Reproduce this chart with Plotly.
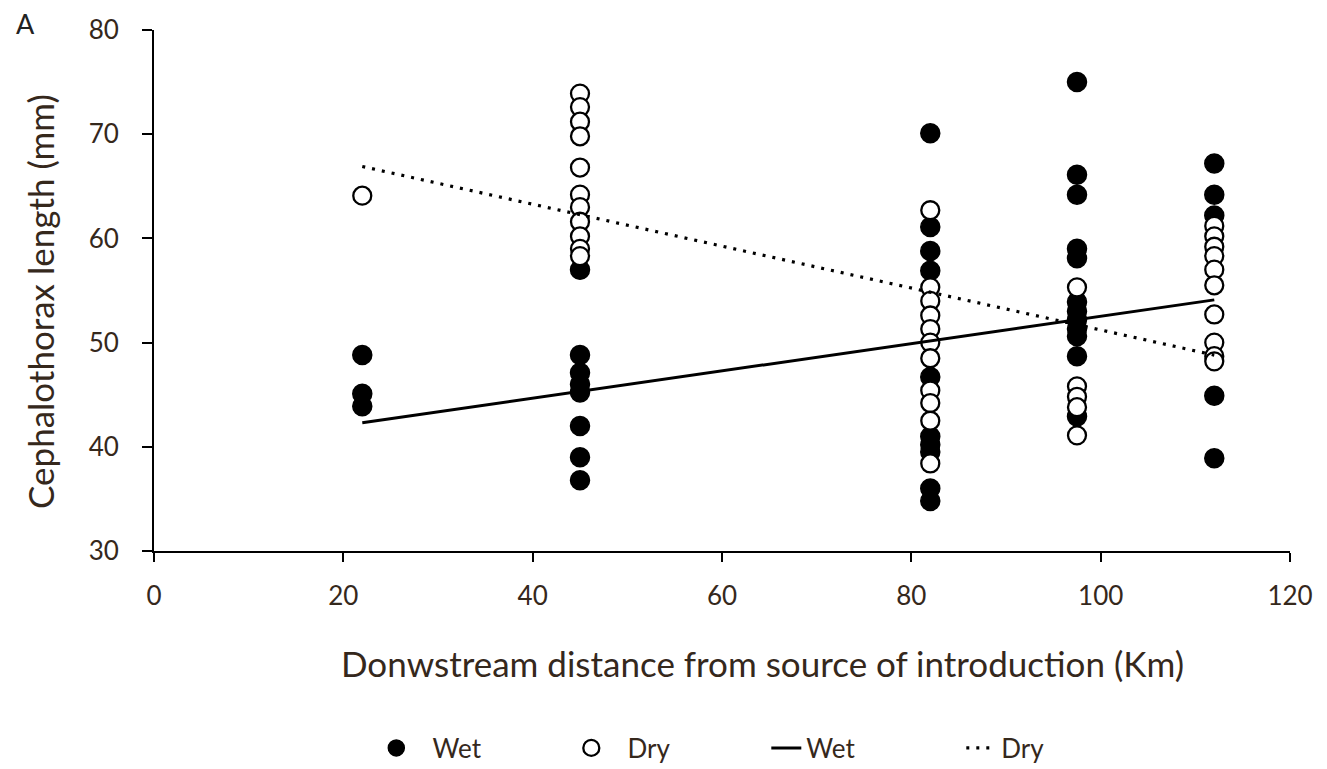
import plotly.graph_objects as go

# --- data ---
wet_x = [22, 22, 22,
         45, 45, 45, 45, 45, 45, 45, 45,
         82, 82, 82, 82, 82, 82, 82, 82, 82, 82,
         97.5, 97.5, 97.5, 97.5, 97.5, 97.5, 97.5, 97.5, 97.5, 97.5, 97.5, 97.5,
         112, 112, 112, 112, 112]
wet_y = [48.8, 45.1, 43.9,
         57.0, 48.8, 47.1, 46.0, 45.2, 42.0, 39.0, 36.8,
         70.1, 61.1, 58.8, 56.9, 46.7, 41.0, 40.2, 39.5, 36.0, 34.8,
         75.0, 66.1, 64.2, 59.0, 58.1, 53.9, 53.0, 52.2, 51.3, 50.6, 48.7, 42.9,
         67.2, 64.2, 62.2, 44.9, 38.9]

dry_x = [22,
         45, 45, 45, 45, 45, 45, 45, 45, 45, 45, 45,
         82, 82, 82, 82, 82, 82, 82, 82, 82, 82, 82,
         97.5, 97.5, 97.5, 97.5, 97.5,
         112, 112, 112, 112, 112, 112, 112, 112, 112, 112]
dry_y = [64.1,
         73.9, 72.6, 71.2, 69.8, 66.8, 64.2, 63.0, 61.6, 60.2, 59.0, 58.3,
         62.7, 55.3, 54.0, 52.6, 51.3, 50.0, 48.5, 45.4, 44.2, 42.5, 38.4,
         55.3, 45.8, 44.8, 43.8, 41.1,
         61.2, 60.2, 59.2, 58.3, 57.0, 55.5, 52.7, 50.0, 48.7, 48.2]

# trend lines (endpoints)
fit_x = [22, 112]
wet_fit = [42.3, 54.1]
dry_fit = [66.9, 48.8]

x_ticks = [0, 20, 40, 60, 80, 100, 120]
y_ticks = [30, 40, 50, 60, 70, 80]

x_title = "Donwstream distance from source of introduction (Km)"
y_title = "Cephalothorax length (mm)"

TXT = "#35281c"
FONT = "Lato"
SP = "\u2002\u2009"  # gap between legend marker and text

# figure-pixel layout (page has an 8px body offset)
W, H = 1327, 790
L, T = 146, 22
PB = 543                    # plot bottom, figure px
R, B = 45, H - PB
PW, PH = W - L - R, PB - T


def px(xf):
    return (xf - L) / PW


def py(yf):
    return (PB - yf) / PH


fig = go.Figure()
fig.add_trace(go.Scatter(x=wet_x, y=wet_y, mode="markers", name=SP + "Wet",
                         marker=dict(symbol="circle", size=19, color="black",
                                     line=dict(color="black", width=1.5))))
fig.add_trace(go.Scatter(x=dry_x, y=dry_y, mode="markers", name=SP + "Dry",
                         marker=dict(symbol="circle", size=18, color="white",
                                     line=dict(color="black", width=2.3))))
fig.add_trace(go.Scatter(x=fit_x, y=wet_fit, mode="lines", name="Wet",
                         line=dict(color="black", width=3)))
fig.add_trace(go.Scatter(x=fit_x, y=dry_fit, mode="lines", name="Dry",
                         line=dict(color="black", width=3.2, dash="3px,7px")))

fig.update_layout(
    width=W, height=H,
    paper_bgcolor="white", plot_bgcolor="white",
    margin=dict(l=L, r=R, t=T, b=B),
    font=dict(family=FONT, size=26, color=TXT),
    showlegend=True,
    legend=dict(orientation="h", x=0.539, xanchor="center",
                y=py(740), yanchor="middle",
                font=dict(family=FONT, size=26, color=TXT),
                itemwidth=30, entrywidth=150, bgcolor="rgba(0,0,0,0)"),
    annotations=[
        dict(text="A", x=px(17), y=py(16), xref="paper", yref="paper",
             xanchor="center", yanchor="middle", showarrow=False,
             font=dict(family=FONT, size=27, color="#222")),
        dict(text=x_title, x=px(754), y=py(655), xref="paper", yref="paper",
             xanchor="center", yanchor="middle", showarrow=False,
             font=dict(family=FONT, size=35, color=TXT)),
        dict(text=y_title, x=px(32), y=py(294), xref="paper", yref="paper",
             xanchor="center", yanchor="middle", showarrow=False, textangle=-90,
             font=dict(family=FONT, size=35, color=TXT)),
    ],
)

fig.update_xaxes(range=[0, 120], tickvals=x_ticks, showgrid=False, zeroline=False,
                 showline=True, linecolor="black", linewidth=2, automargin=False,
                 ticks="outside", ticklen=9, tickwidth=2, tickcolor="black",
                 ticklabelstandoff=12,
                 tickfont=dict(family=FONT, size=26, color=TXT))
fig.update_yaxes(range=[30, 80], tickvals=y_ticks, showgrid=False, zeroline=False,
                 showline=True, linecolor="black", linewidth=2, automargin=False,
                 ticks="outside", ticklen=10, tickwidth=2, tickcolor="black",
                 ticklabelstandoff=18,
                 tickfont=dict(family=FONT, size=26, color=TXT))

fig.write_html("out.html")
